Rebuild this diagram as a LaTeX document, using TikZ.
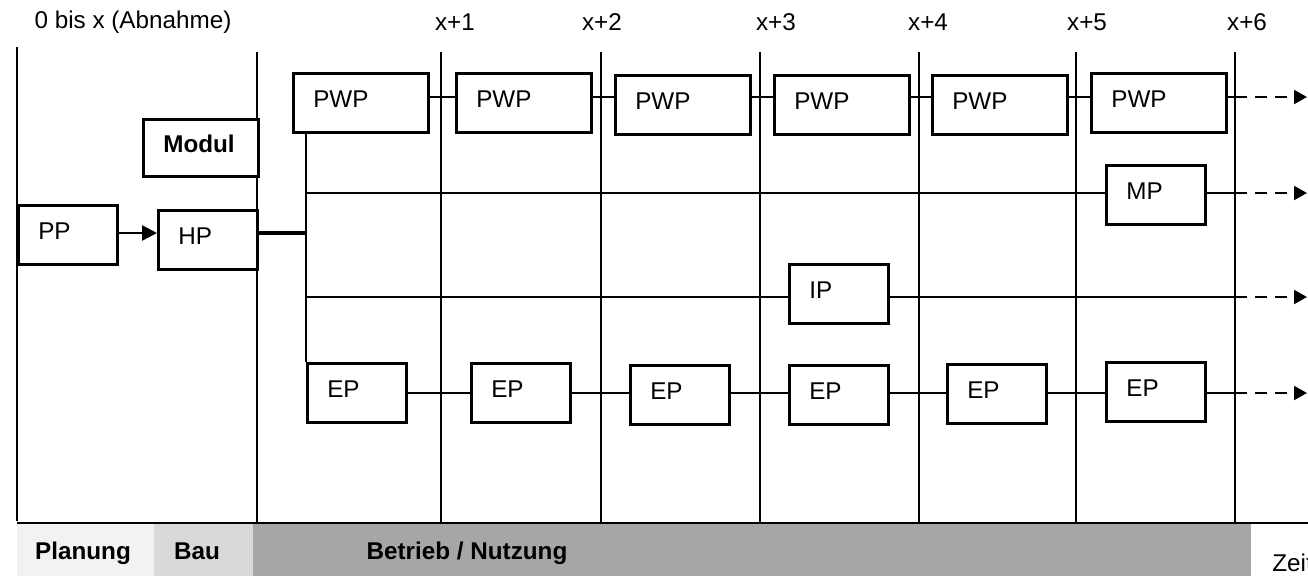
\documentclass[tikz,border=0pt]{standalone}
\usepackage{fontspec}
\setmainfont{Liberation Sans}
\usepackage{tikz}
\usetikzlibrary{arrows.meta}
\definecolor{planung}{HTML}{F2F2F2}
\definecolor{bau}{HTML}{D9D9D9}
\definecolor{betrieb}{HTML}{A6A6A6}

\begin{document}
\begin{tikzpicture}[x=0.02cm, y=-0.02cm,
                font=\fontsize{13.8}{16}\selectfont,
                kasten/.style={draw, fill=white, line width=1.5pt, anchor=north west,
                        inner xsep=0.4cm, inner ysep=0pt, text height=0.68cm,
                        text depth=0.5cm, align=left, text width=#1},
                kasten/.default=1.18cm,
                fett/.style={font=\fontsize{13.8}{16}\selectfont\bfseries},
                achse/.style={line width=1.5pt},
                verbindung/.style={line width=1.2pt},
                weiter/.style={verbindung, dash pattern=on 0.24cm off 0.16cm,
                        -{Triangle[length=0.26cm, width=0.28cm]}}]
                \useasboundingbox (0,0) rectangle (1308,576);
                % Phasen unten
                \fill[planung] (17,524) rectangle (154,576);
                \fill[bau] (154,524) rectangle (253,576);
                \fill[betrieb] (253,524) rectangle (1251,576);
                \node[fett, anchor=base] (planungtext) at (83,559) {Planung};
                \node[fett, anchor=base] (bautext) at (197,559) {Bau};
                \node[fett, anchor=base] (betriebtext) at (467,559) {Betrieb / Nutzung};
                \node[anchor=base west, inner sep=0pt] (zeit) at (1272,571) {Zeit};
                % Zeitachse
                \draw[achse] (17,47) -- (17,521);
                \draw[achse] (257,52) -- (257,523);
                \foreach \x in {441,601,760,919,1076,1235}
                        \draw[achse] (\x,52) -- (\x,523);
                \draw[achse] (17,523) -- (1308,523);
                \node (jahr0) at (133,22) {0 bis x (Abnahme)};
                \foreach \x/\t [count=\i] in {455/x+1,602/x+2,776/x+3,928/x+4,1087/x+5,1247/x+6}
                        \node (jahr\i) at (\x,22) {\t};
                % Kaesten
                \node[kasten] (pp) at (17,204) {PP};
                \node[kasten=1.5cm, fett, text height=0.67cm, text depth=0.47cm] (modul) at (142,118) {Modul};
                \node[kasten] (hp) at (157,209) {HP};
                \foreach \x/\y [count=\i] in {292/72,455/72,614/74,773/74,931/74,1090/72}
                        \node[kasten=1.9cm] (pwp\i) at (\x,\y) {PWP};
                \node[kasten] (mp) at (1105,164) {MP};
                \node[kasten] (ip) at (788,263) {IP};
                \foreach \x/\y [count=\i] in {306/362,470/362,629/364,788/364,946/363,1105/361}
                        \node[kasten] (ep\i) at (\x,\y) {EP};
                % Zeilen
                \coordinate (zeileA) at (0,97);
                \coordinate (zeileB) at (0,193);
                \coordinate (zeileC) at (0,297);
                \coordinate (zeileD) at (0,393);
                \coordinate (zeileH) at (0,233);
                \coordinate (endeA) at (1235,97);
                \coordinate (endeB) at (1235,193);
                \coordinate (endeC) at (1235,297);
                \coordinate (endeD) at (1235,393);
                \coordinate (pfeilA) at (1307,97);
                \coordinate (pfeilB) at (1307,193);
                \coordinate (pfeilC) at (1307,297);
                \coordinate (pfeilD) at (1307,393);
                % Verbindungen
                \draw[line width=1.4pt, -{Triangle[length=0.3cm, width=0.3cm]}] (pp.east |- zeileH) -- (hp.west |- zeileH);
                \draw[line width=1.8pt] (hp.east |- zeileH) -- (ep1.west |- zeileH);
                \draw[verbindung] (ep1.north west) -- (ep1.north west |- pwp1.south);
                \foreach \a/\b in {1/2,2/3,3/4,4/5,5/6}{
                        \draw[verbindung] (pwp\a.east |- zeileA) -- (pwp\b.west |- zeileA);
                        \draw[verbindung] (ep\a.east |- zeileD) -- (ep\b.west |- zeileD);
                }
                \draw[verbindung] (pwp6.east |- zeileA) -- (endeA);
                \draw[verbindung] (ep6.east |- zeileD) -- (endeD);
                \draw[verbindung] (ep1.west |- zeileB) -- (mp.west |- zeileB);
                \draw[verbindung] (mp.east |- zeileB) -- (endeB);
                \draw[verbindung] (ep1.west |- zeileC) -- (ip.west |- zeileC);
                \draw[verbindung] (ip.east |- zeileC) -- (endeC);
                \draw[weiter] (endeA) -- (pfeilA);
                \draw[weiter] (endeB) -- (pfeilB);
                \draw[weiter] (endeC) -- (pfeilC);
                \draw[weiter] (endeD) -- (pfeilD);
\end{tikzpicture}
\end{document}
